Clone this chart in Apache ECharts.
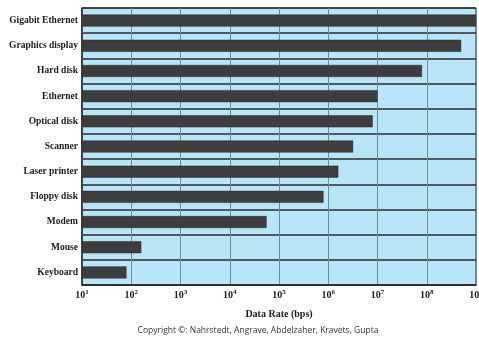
<!DOCTYPE html>
<html>
<head>
<meta charset="utf-8">
<script src="https://cdn.jsdelivr.net/npm/echarts@6/dist/echarts.min.js"></script>
<style>
  html, body { margin: 0; padding: 0; background: #fff; }
  #chart { width: 479px; height: 337px; }
</style>
</head>
<body>
<div id="chart"></div>
<script>
// Devices, listed bottom to top along the category axis
const devices = [
  'Keyboard', 'Mouse', 'Modem', 'Floppy disk', 'Laser printer', 'Scanner',
  'Optical disk', 'Ethernet', 'Hard disk', 'Graphics display', 'Gigabit Ethernet'
];
// Data rate of each device, bits per second
const rates = [80, 160, 56000, 800000, 1600000, 3200000, 8000000, 10000000, 80000000, 500000000, 1000000000];
// Exponents shown on the log axis ticks
const tickExponents = [1, 2, 3, 4, 5, 6, 7, 8, 9];

const serif = '"Liberation Serif", "DejaVu Serif", serif';
const chart = echarts.init(document.getElementById('chart'), null, { renderer: 'canvas' });

chart.setOption({
  animation: false,
  grid: {
    left: 82, right: 3, top: 8, bottom: 52,
    outerBoundsMode: 'none',
    containLabel: false,
    show: true,
    backgroundColor: '#b9e5f9',
    borderColor: '#2b2b2b',
    borderWidth: 1
  },
  xAxis: {
    type: 'log',
    logBase: 10,
    min: 10,
    max: 1e9,
    name: 'Data Rate (bps)',
    nameLocation: 'middle',
    nameGap: 24,
    nameTextStyle: { fontFamily: serif, fontWeight: 'bold', fontSize: 10, color: '#1a1a1a' },
    axisLine: { show: true, lineStyle: { color: '#2b2b2b', width: 1.5 } },
    axisTick: { show: false },
    splitLine: { show: true, lineStyle: { color: '#6d8b9c', width: 1 } },
    axisLabel: {
      margin: 4,
      hideOverlap: false,
      formatter: function (v) {
        const e = Math.round(Math.log10(v));
        if (tickExponents.indexOf(e) < 0) return '';
        return '{b|10}{s|' + e + '}';
      },
      rich: {
        b: { fontFamily: serif, fontWeight: 'bold', fontSize: 10, color: '#1a1a1a' },
        s: { fontFamily: serif, fontWeight: 'bold', fontSize: 7, color: '#1a1a1a', padding: [0, 0, 5, 0] }
      }
    }
  },
  yAxis: {
    type: 'category',
    data: devices,
    axisLine: { show: true, lineStyle: { color: '#2b2b2b', width: 1.5 } },
    axisTick: { show: false },
    splitLine: { show: true, lineStyle: { color: '#2b2b2b', width: 1.5 } },
    axisLabel: {
      margin: 4,
      fontFamily: serif,
      fontWeight: 'bold',
      fontSize: 9.5,
      color: '#1a1a1a'
    }
  },
  series: [{
    type: 'bar',
    data: rates,
    barWidth: 12,
    clip: true,
    itemStyle: { color: '#3d3d3d', borderColor: '#2a2a2a', borderWidth: 0.5 }
  }],
  graphic: [{
    type: 'text',
    x: 258,
    y: 331,
    style: {
      text: 'Copyright \u00a9: Nahrstedt, Angrave, Abdelzaher, Kravets, Gupta',
      font: '8.5px "Open Sans", "Noto Sans", sans-serif',
      fill: '#333',
      align: 'center',
      verticalAlign: 'middle'
    }
  }]
});
</script>
</body>
</html>
